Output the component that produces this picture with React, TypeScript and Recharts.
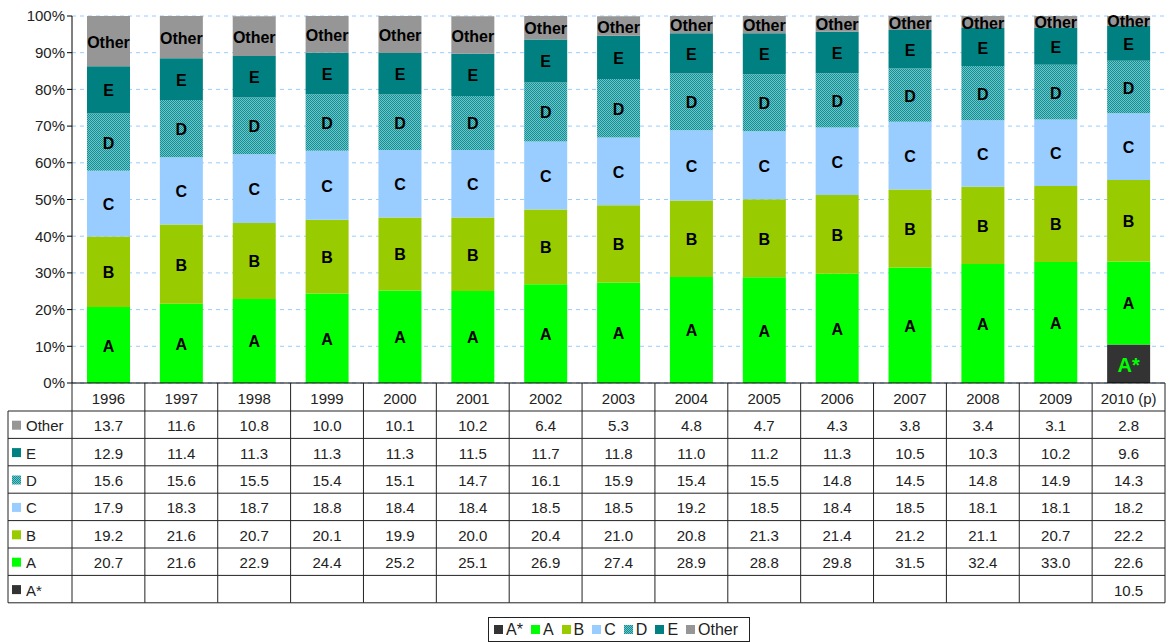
import { BarChart, Bar, XAxis, YAxis, CartesianGrid, LabelList, Legend } from "recharts";

const YEARS = ["1996", "1997", "1998", "1999", "2000", "2001", "2002", "2003", "2004", "2005", "2006", "2007", "2008", "2009", "2010 (p)"];
const OTHER = [13.7, 11.6, 10.8, 10.0, 10.1, 10.2, 6.4, 5.3, 4.8, 4.7, 4.3, 3.8, 3.4, 3.1, 2.8];
const E = [12.9, 11.4, 11.3, 11.3, 11.3, 11.5, 11.7, 11.8, 11.0, 11.2, 11.3, 10.5, 10.3, 10.2, 9.6];
const D = [15.6, 15.6, 15.5, 15.4, 15.1, 14.7, 16.1, 15.9, 15.4, 15.5, 14.8, 14.5, 14.8, 14.9, 14.3];
const C = [17.9, 18.3, 18.7, 18.8, 18.4, 18.4, 18.5, 18.5, 19.2, 18.5, 18.4, 18.5, 18.1, 18.1, 18.2];
const B = [19.2, 21.6, 20.7, 20.1, 19.9, 20.0, 20.4, 21.0, 20.8, 21.3, 21.4, 21.2, 21.1, 20.7, 22.2];
const A = [20.7, 21.6, 22.9, 24.4, 25.2, 25.1, 26.9, 27.4, 28.9, 28.8, 29.8, 31.5, 32.4, 33.0, 22.6];
const A_STAR = [null, null, null, null, null, null, null, null, null, null, null, null, null, null, 10.5];
const Y_TICKS = [0, 10, 20, 30, 40, 50, 60, 70, 80, 90, 100];

const FONT = '"Liberation Sans", Arial, sans-serif';

// stack order, bottom to top
const SERIES = [
  { key: "Astar", name: "A*", color: "#333333", values: A_STAR },
  { key: "A", name: "A", color: "#00ff00", values: A },
  { key: "B", name: "B", color: "#99cc00", values: B },
  { key: "C", name: "C", color: "#99ccff", values: C },
  { key: "D", name: "D", color: "url(#dotsD)", values: D },
  { key: "E", name: "E", color: "#008080", values: E },
  { key: "Other", name: "Other", color: "#969696", values: OTHER },
];
const TABLE_ROWS = [...SERIES].reverse();

const data = YEARS.map((year, i) => {
  const row: any = { year };
  SERIES.forEach((s) => {
    row[s.key] = s.values[i];
  });
  return row;
});

// layout
const W = 1170;
const H = 642;
const PLOT_LEFT = 72;
const PLOT_RIGHT = 1165;
const BAND = (PLOT_RIGHT - PLOT_LEFT) / YEARS.length;
const HEAD_H = 28;
const ROW_H = 27.4;
const TABLE_LEFT = 8;

function Swatch({ color, size = 9 }: { color: string; size?: number }) {
  if (color.startsWith("url")) {
    return (
      <svg width={size} height={size} style={{ display: "block" }}>
        <defs>
          <pattern id="dotsSw" width="2" height="2" patternUnits="userSpaceOnUse">
            <rect width="2" height="2" fill="#66c8cc" />
            <rect width="1" height="1" fill="#1a8c90" />
            <rect x="1" y="1" width="1" height="1" fill="#1a8c90" />
          </pattern>
        </defs>
        <rect width={size} height={size} fill="url(#dotsSw)" />
      </svg>
    );
  }
  return <div style={{ width: size, height: size, background: color }} />;
}

function TableTick(props: any) {
  const { x, y, payload, index } = props;
  const i = YEARS.indexOf(payload.value);
  const left = x - BAND / 2;
  const right = x + BAND / 2;
  const bottom = y + HEAD_H + ROW_H * TABLE_ROWS.length;
  const line = "#222";
  return (
    <g fontFamily={FONT} fontSize={15} fill="#222">
      <text x={x} y={y + HEAD_H / 2 + 1} textAnchor="middle" dominantBaseline="central">
        {payload.value}
      </text>
      <line x1={right} y1={y} x2={right} y2={bottom} stroke={line} />
      {index === 0 && <line x1={left} y1={y} x2={left} y2={bottom} stroke={line} />}
      {TABLE_ROWS.map((r, k) => {
        const top = y + HEAD_H + ROW_H * k;
        const v = r.values[i];
        return (
          <g key={r.key}>
            <line x1={left} y1={top} x2={right} y2={top} stroke={line} />
            {v != null && (
              <text x={x} y={top + ROW_H / 2 + 1} textAnchor="middle" dominantBaseline="central">
                {v.toFixed(1)}
              </text>
            )}
          </g>
        );
      })}
      <line x1={left} y1={bottom} x2={right} y2={bottom} stroke={line} />
      {index === 0 && (
        <g>
          <line x1={TABLE_LEFT} y1={y + HEAD_H} x2={TABLE_LEFT} y2={bottom} stroke={line} />
          <line x1={TABLE_LEFT} y1={bottom} x2={left} y2={bottom} stroke={line} />
          {TABLE_ROWS.map((r, k) => {
            const top = y + HEAD_H + ROW_H * k;
            return (
              <g key={r.key}>
                <line x1={TABLE_LEFT} y1={top} x2={left} y2={top} stroke={line} />
                <rect
                  x={TABLE_LEFT + 4}
                  y={top + ROW_H / 2 - 4}
                  width={9}
                  height={9}
                  fill={r.color.startsWith("url") ? "url(#dotsD)" : r.color}
                />
                <text x={TABLE_LEFT + 18} y={top + ROW_H / 2 + 1} dominantBaseline="central">
                  {r.name}
                </text>
              </g>
            );
          })}
        </g>
      )}
    </g>
  );
}

function makeLabel(name: string) {
  return (p: any) => {
    const { x, y, width, height, value } = p;
    if (value == null) return null;
    const star = name === "A*";
    return (
      <text
        x={x + width / 2}
        y={y + height / 2 + 1}
        textAnchor="middle"
        dominantBaseline="central"
        fontFamily={FONT}
        fontWeight="bold"
        fontSize={star ? 20 : 16}
        fill={star ? "#00ff00" : "#000"}
      >
        {name}
      </text>
    );
  };
}

function LegendBox() {
  return (
    <div style={{ height: 39, paddingTop: 14, boxSizing: "border-box" }}>
      <div
        style={{
          marginLeft: 488,
          width: 262,
          height: 25,
          boxSizing: "border-box",
          border: "1px solid #222",
          display: "flex",
          alignItems: "center",
          gap: 8,
          paddingLeft: 5,
          fontFamily: FONT,
          fontSize: 16,
          color: "#222",
        }}
      >
        {SERIES.map((s) => (
          <div key={s.key} style={{ display: "flex", alignItems: "center", gap: 3 }}>
            <Swatch color={s.color} />
            <span>{s.name}</span>
          </div>
        ))}
      </div>
    </div>
  );
}

export default function App() {
  return (
    <div style={{ position: "absolute", left: 0, top: 0, width: W, height: H, background: "#fff" }}>
      <BarChart width={W} height={H} data={data} margin={{ top: 16, right: W - PLOT_RIGHT, bottom: 0, left: 0 }} barSize={43}>
        <defs>
          <pattern id="dotsD" width="2" height="2" patternUnits="userSpaceOnUse">
            <rect width="2" height="2" fill="#66c8cc" />
            <rect width="1" height="1" fill="#1a8c90" />
            <rect x="1" y="1" width="1" height="1" fill="#1a8c90" />
          </pattern>
        </defs>
        <CartesianGrid vertical={false} stroke="#99ccff" strokeDasharray="4 4" />
        <XAxis
          dataKey="year"
          height={220}
          interval={0}
          tickLine={false}
          tickSize={0}
          tickMargin={0}
          axisLine={{ stroke: "#000" }}
          tick={(p: any) => <TableTick {...p} />}
        />
        <XAxis xAxisId="top" orientation="top" dataKey="year" height={0} tick={false} tickLine={false} axisLine={{ stroke: "#999" }} />
        <YAxis
          width={PLOT_LEFT}
          domain={[0, 100]}
          ticks={Y_TICKS}
          allowDataOverflow
          tickFormatter={(v) => `${v}%`}
          tickSize={5}
          tickLine={{ stroke: "#000" }}
          axisLine={{ stroke: "#000" }}
          tick={{ fontSize: 15, fill: "#222", fontFamily: FONT }}
        />
        <YAxis yAxisId="right" orientation="right" width={0} domain={[0, 100]} tick={false} tickLine={false} axisLine={{ stroke: "#999" }} />
        {SERIES.map((s) => (
          <Bar key={s.key} dataKey={s.key} name={s.name} stackId="a" fill={s.color} isAnimationActive={false}>
            <LabelList dataKey={s.key} content={makeLabel(s.name)} />
          </Bar>
        ))}
        <Legend verticalAlign="bottom" height={39} content={() => <LegendBox />} />
      </BarChart>
    </div>
  );
}
